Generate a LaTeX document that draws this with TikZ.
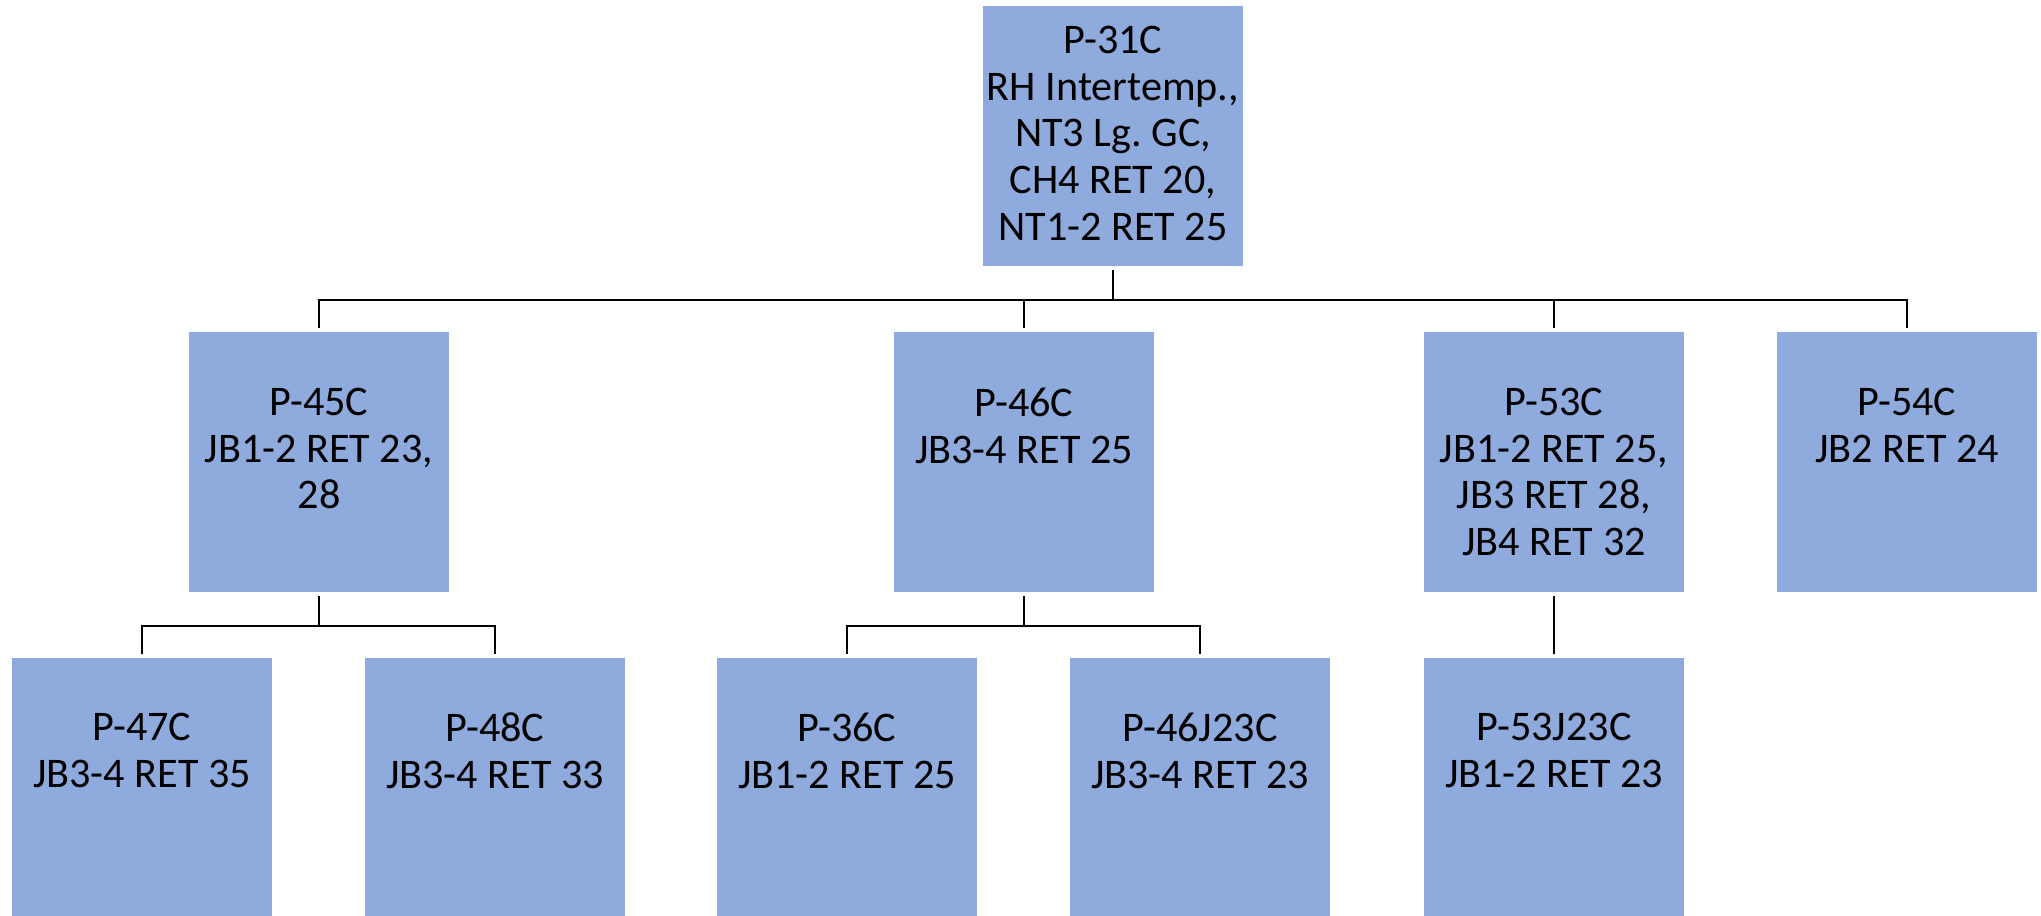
\documentclass[tikz,border=0pt]{standalone}
\usepackage{fontspec}
\setmainfont{Carlito}
\usetikzlibrary{positioning}
\definecolor{boxblue}{RGB}{143,170,220}

\begin{document}
\begin{tikzpicture}[line width=0.6pt]
            \tikzset{box/.style={fill=boxblue, minimum width=2.6cm, minimum height=2.6cm, inner sep=0pt},
                     txt/.style={align=center, inner sep=0pt, font=\fontsize{12}{13.3}\selectfont},
                     link/.style={shorten <=0.03cm, shorten >=0.03cm}};
            \useasboundingbox (0,0) rectangle (20.41,-9.16);

            \node[box] (p31) at (11.13,-1.36) {};

            \node[box] (p45) at (3.19,-4.62) {};
            \node[box] (p46) at (10.24,-4.62) {};
            \node[box] (p53) at (15.54,-4.62) {};
            \node[box] (p54) at (19.07,-4.62) {};

            \node[box] (p47) at (1.42,-7.88) {};
            \node[box] (p48) at (4.95,-7.88) {};
            \node[box] (p36) at (8.47,-7.88) {};
            \node[box] (p46j) at (12.00,-7.88) {};
            \node[box] (p53j) at (15.54,-7.88) {};

            \node[txt, below=0.2cm of p31.north] (t31) {P-31C\\RH Intertemp.,\\NT3 Lg.\ GC,\\CH4 RET 20,\\NT1-2 RET 25};
            \node[txt, below=0.56cm of p45.north] (t45) {P-45C\\JB1-2 RET 23,\\28};
            \node[txt, below=0.56cm of p46.north] (t46) {P-46C\\JB3-4 RET 25};
            \node[txt, below=0.56cm of p53.north] (t53) {P-53C\\JB1-2 RET 25,\\JB3 RET 28,\\JB4 RET 32};
            \node[txt, below=0.56cm of p54.north] (t54) {P-54C\\JB2 RET 24};
            \node[txt, below=0.55cm of p47.north] (t47) {P-47C\\JB3-4 RET 35};
            \node[txt, below=0.55cm of p48.north] (t48) {P-48C\\JB3-4 RET 33};
            \node[txt, below=0.55cm of p36.north] (t36) {P-36C\\JB1-2 RET 25};
            \node[txt, below=0.55cm of p46j.north] (t46j) {P-46J23C\\JB3-4 RET 23};
            \node[txt, below=0.55cm of p53j.north] (t53j) {P-53J23C\\JB1-2 RET 23};

            \draw[link] (p31.south) -- ++(0,-0.33) -| (p45.north);
            \draw[link] (p31.south) -- ++(0,-0.33) -| (p46.north);
            \draw[link] (p31.south) -- ++(0,-0.33) -| (p53.north);
            \draw[link] (p31.south) -- ++(0,-0.33) -| (p54.north);

            \draw[link] (p45.south) -- ++(0,-0.33) -| (p47.north);
            \draw[link] (p45.south) -- ++(0,-0.33) -| (p48.north);
            \draw[link] (p46.south) -- ++(0,-0.33) -| (p36.north);
            \draw[link] (p46.south) -- ++(0,-0.33) -| (p46j.north);
            \draw[link] (p53.south) -- (p53j.north);
        \end{tikzpicture}
\end{document}
